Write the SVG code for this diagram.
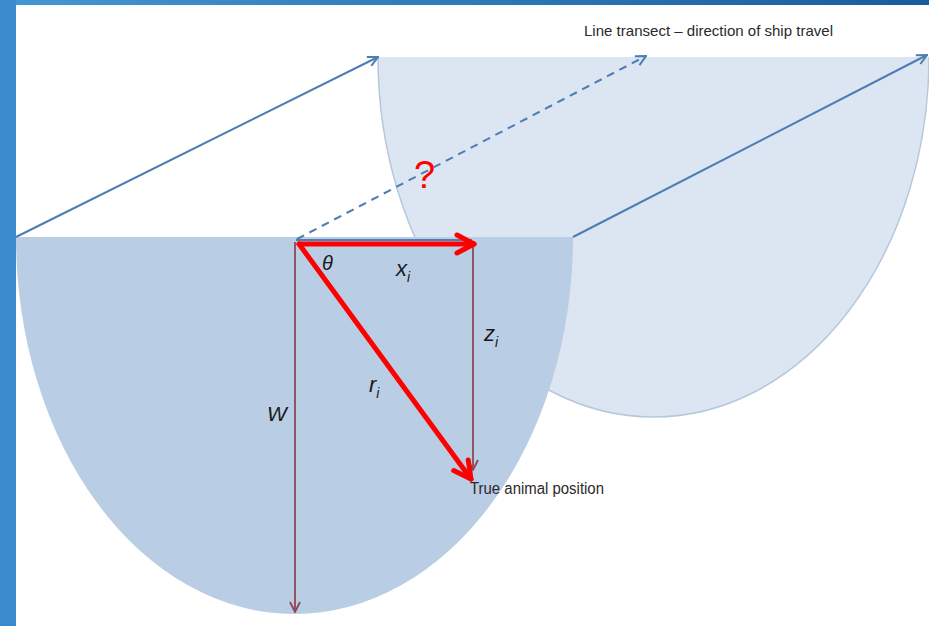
<svg xmlns="http://www.w3.org/2000/svg" width="929" height="626" viewBox="0 0 929 626">
<defs>
<linearGradient id="topband" x1="0" y1="0" x2="1" y2="0">
<stop offset="0" stop-color="#4497d6"/>
<stop offset="1" stop-color="#1a5c9b"/>
</linearGradient>
<marker id="blueHead" viewBox="0 0 12 12" refX="11" refY="6" markerWidth="12" markerHeight="12" markerUnits="userSpaceOnUse" orient="auto">
<path d="M1,1 L11,6 L1,11" fill="none" stroke="#4d7db4" stroke-width="2"/>
</marker>
<marker id="brownHead" viewBox="0 0 12 12" refX="11" refY="6" markerWidth="12" markerHeight="12" markerUnits="userSpaceOnUse" orient="auto">
<path d="M1,1 L11,6 L1,11" fill="none" stroke="#8e4852" stroke-width="1.8"/>
</marker>
<marker id="redHead" viewBox="0 0 24 24" refX="21" refY="12" markerWidth="24" markerHeight="24" markerUnits="userSpaceOnUse" orient="auto">
<path d="M4,3 L21,12 L4,21" fill="none" stroke="#ff0000" stroke-width="5" stroke-linecap="round" stroke-linejoin="round"/>
</marker>
</defs>
<style>
.blue{stroke:#4d7db4;stroke-width:2;fill:none}
.brown{stroke:#8e4852;stroke-width:1.8;fill:none}
.red{stroke:#ff0000;stroke-width:5;fill:none;stroke-linecap:round}
.lbl{font-family:"Liberation Sans",Arial,sans-serif;fill:#2a2a2a}
.math{font-family:"Liberation Sans",Arial,sans-serif;font-style:italic;fill:#1a1a1a}
</style>
<rect x="0" y="0" width="929" height="626" fill="#ffffff"/>
<rect x="0" y="0" width="929" height="5" fill="url(#topband)"/>
<rect x="0" y="0" width="16" height="626" fill="#3c8ace"/>

<g id="back-region">
<path d="M378,57 H929 A275.5,360 0 0 1 378,57 Z" fill="#dce6f2"/>
<path d="M929,57 A275.5,360 0 0 1 378,57" fill="none" stroke="#b7c7dc" stroke-width="1.5"/>
</g>
<g id="front-region">
<path d="M16,237 H573 A278.5,377 0 0 1 16,237 Z" fill="#b9cde5"/>
</g>

<g id="connectors">
<line class="blue" x1="16" y1="237" x2="378" y2="57" marker-end="url(#blueHead)"/>
<line class="blue" x1="297" y1="239" x2="646" y2="56" stroke-dasharray="8,6" marker-end="url(#blueHead)"/>
<line class="blue" x1="573" y1="237" x2="927" y2="55" marker-end="url(#blueHead)"/>
<line class="blue" x1="296" y1="240" x2="472" y2="240"/>
<line class="brown" x1="295" y1="242" x2="295" y2="612" marker-end="url(#brownHead)"/>
<line class="brown" x1="473" y1="242" x2="473" y2="470" marker-end="url(#brownHead)"/>
<line class="red" x1="299" y1="244" x2="474" y2="244" marker-end="url(#redHead)"/>
<line class="red" x1="299" y1="244" x2="471" y2="479" marker-end="url(#redHead)"/>
</g>

<g id="labels">
<text class="lbl" x="584" y="36" font-size="15" textLength="249" lengthAdjust="spacingAndGlyphs">Line transect – direction of ship travel</text>
<text x="414" y="188" font-family="Liberation Sans,Arial,sans-serif" font-size="38" fill="#ff0000">?</text>
<text class="math" x="322" y="270" font-size="20">θ</text>
<text class="math" x="396" y="276" font-size="22">x<tspan font-size="14" dy="6">i</tspan></text>
<text class="math" x="484" y="341" font-size="22">z<tspan font-size="14" dy="6">i</tspan></text>
<text class="math" x="369" y="392" font-size="22">r<tspan font-size="14" dy="6">i</tspan></text>
<text class="math" x="267" y="421" font-size="21">W</text>
<text class="lbl" x="470" y="494" font-size="16" textLength="134" lengthAdjust="spacingAndGlyphs">True animal position</text>
</g>
</svg>
